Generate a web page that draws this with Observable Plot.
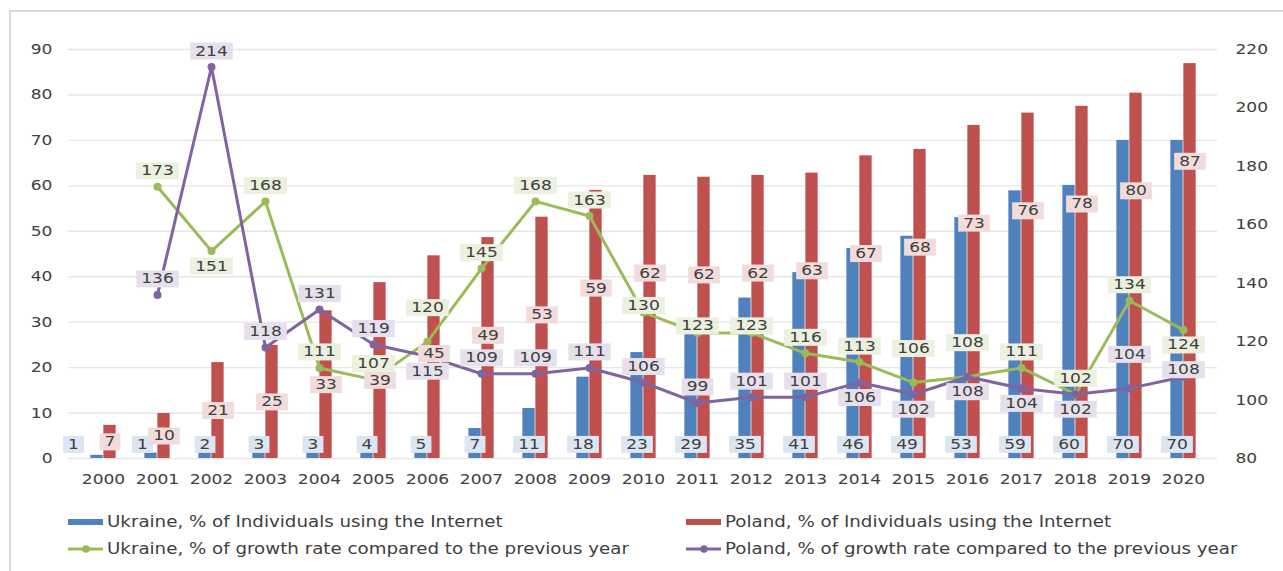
<!DOCTYPE html>
<html>
<head>
<meta charset="utf-8">
<script src="https://cdn.jsdelivr.net/npm/d3@7"></script>
<script src="https://cdn.jsdelivr.net/npm/@observablehq/plot@0.6"></script>
<style>
  html, body { margin: 0; padding: 0; background: #fff; }
  #wrap { position: relative; width: 1283px; height: 571px; overflow: hidden; font-family: "DejaVu Sans", Verdana, sans-serif; color: #404040; }
  #chart { position: absolute; left: 0; top: 0; }
  #frame { position: absolute; left: 9px; top: 10px; width: 1400px; height: 700px; border-left: 2px solid #d9d9d9; border-top: 2px solid #d9d9d9; pointer-events: none; }
  .lg-sw { position: absolute; }
  .lg-tx { position: absolute; font-size: 15px; line-height: 18px; white-space: nowrap; transform: scaleX(1.215); transform-origin: left center; }
</style>
</head>
<body>
<div id="wrap">
  <div id="chart"></div>
  <div id="legend"></div>
  <div id="frame"></div>
</div>
<script>
// ---------- data ----------
const years = ["2000","2001","2002","2003","2004","2005","2006","2007","2008","2009","2010",
               "2011","2012","2013","2014","2015","2016","2017","2018","2019","2020"];
const ukraineUsers = [0.7, 1.2, 1.9, 3.1, 3.4, 3.7, 4.5, 6.6, 11, 17.9, 23.3,
                      28.7, 35.3, 40.9, 46.2, 48.9, 53, 58.9, 60.1, 70, 70];
const polandUsers  = [7.3, 9.9, 21.1, 24.9, 32.5, 38.7, 44.6, 48.6, 53.1, 59, 62.3,
                      61.9, 62.3, 62.8, 66.6, 68, 73.3, 76, 77.5, 80.4, 86.9];
const ukraineGrowth = [null, 173, 151, 168, 111, 107, 120, 145, 168, 163, 130,
                       123, 123, 116, 113, 106, 108, 111, 102, 134, 124];
const polandGrowth  = [null, 136, 214, 118, 131, 119, 115, 109, 109, 111, 106,
                       99, 101, 101, 106, 102, 108, 104, 102, 104, 108];
// data-label placement relative to the point
const ukraineGrowthLabelSide = ["", "above","below","above","above","above","high","above","above","above","near",
                                "near","near","above","above","high","high","above","above","above","below"];
const polandGrowthLabelSide  = ["", "above","above","above","above","above","below","above","above","above","above",
                                "above","above","above","below","below","below","below","below","high","near"];
const leftTicks = [0, 10, 20, 30, 40, 50, 60, 70, 80, 90];
const rightTicks = [80, 100, 120, 140, 160, 180, 200, 220];
const seriesNames = [
  "Ukraine, % of Individuals using the Internet",
  "Poland, % of Individuals using the Internet",
  "Ukraine, % of growth rate compared to the previous year",
  "Poland, % of growth rate compared to the previous year"
];
const colors = { ua: "#4f81bd", pl: "#c0504d", uaG: "#9bbb59", plG: "#8064a2" };
const boxColors = { ua: "#dce6f2", pl: "#f2dcdb", uaG: "#ebf1de", plG: "#e6e0ec" };
const sideOffset = { above: -16, below: 15, high: -34, near: -7 };

// ---------- helpers ----------
const RMIN = 80, RMAX = 220, LMAX = 90;
const toLeft = v => (v - RMIN) * LMAX / (RMAX - RMIN);
const fromLeft = y => y * (RMAX - RMIN) / LMAX + RMIN;

const rows = years.map((year, i) => ({year, ua: ukraineUsers[i], pl: polandUsers[i]}));
const uaG = years.map((year, i) => ({year, v: ukraineGrowth[i], side: ukraineGrowthLabelSide[i]})).filter(d => d.v != null);
const plG = years.map((year, i) => ({year, v: polandGrowth[i], side: polandGrowthLabelSide[i]})).filter(d => d.v != null);

const W = 1283, H = 500, mL = 68, mR = 66, mT = 49, mB = 42;
const bw = (W - mL - mR) / years.length;
const barW = 13;
const txt = "#404040";
// Poland label sits inside the bar, below its top (or mid-bar for short bars)
const plLabelY = d => (d.pl - 21.5 > 12 ? d.pl - 21.5 : d.pl / 2);

function growthLabels(data, desc) {
  return Object.keys(sideOffset).map(side =>
    Plot.text(data.filter(d => d.side === side), {
      x: "year", y: d => toLeft(d.v), text: d => String(d.v),
      dy: sideOffset[side], fill: txt, ariaDescription: desc
    }));
}

const plot = Plot.plot({
  width: W, height: H,
  marginLeft: mL, marginRight: mR, marginTop: mT, marginBottom: mB,
  x: {domain: years, padding: 0, label: null},
  y: {domain: [0, LMAX], label: null},
  style: {fontFamily: '"DejaVu Sans", Verdana, sans-serif', fontSize: "14px", color: txt, background: "transparent", overflow: "visible"},
  marks: [
    Plot.gridY(leftTicks, {stroke: "#e6e6e6", strokeOpacity: 1, strokeWidth: 1.4}),
    Plot.axisY(leftTicks, {anchor: "left", tickSize: 0, tickPadding: 16, label: null}),
    Plot.axisY(rightTicks.map(toLeft), {anchor: "right", tickSize: 0, tickPadding: 18, label: null,
      tickFormat: d => String(Math.round(fromLeft(d)))}),
    Plot.axisX({tickSize: 0, tickPadding: 16, label: null}),
    Plot.barY(rows, {x: "year", y: "ua", fill: colors.ua, insetLeft: bw / 2 - barW, insetRight: bw / 2}),
    Plot.barY(rows, {x: "year", y: "pl", fill: colors.pl, insetLeft: bw / 2, insetRight: bw / 2 - barW}),
    Plot.line(uaG, {x: "year", y: d => toLeft(d.v), stroke: colors.uaG, strokeWidth: 3}),
    Plot.dot(uaG, {x: "year", y: d => toLeft(d.v), fill: colors.uaG, r: 4}),
    Plot.line(plG, {x: "year", y: d => toLeft(d.v), stroke: colors.plG, strokeWidth: 3}),
    Plot.dot(plG, {x: "year", y: d => toLeft(d.v), fill: colors.plG, r: 4}),
    // bar labels
    Plot.text(rows.filter(d => d.year >= "2002"), {x: "year", y: () => 3.1, text: d => String(Math.round(d.ua)), dx: -6.5, fill: txt, ariaDescription: "lbl-ua"}),
    Plot.text(rows.filter(d => d.year === "2000"), {x: "year", y: () => 3.1, text: d => String(Math.round(d.ua)), dx: -30, fill: txt, ariaDescription: "lbl-ua"}),
    Plot.text(rows.filter(d => d.year === "2001"), {x: "year", y: () => 3.1, text: d => String(Math.round(d.ua)), dx: -15, fill: txt, ariaDescription: "lbl-ua"}),
    Plot.text(rows, {x: "year", y: plLabelY, text: d => String(Math.round(d.pl)), dx: 6.5, fill: txt, ariaDescription: "lbl-pl"}),
    // growth labels
    ...growthLabels(uaG, "lbl-uaG"),
    ...growthLabels(plG, "lbl-plG")
  ]
});
document.getElementById("chart").appendChild(plot);

// ---------- horizontal text stretch + label boxes ----------
const S = 1.22;
const svg = plot.tagName.toLowerCase() === "svg" ? plot : plot.querySelector("svg");
svg.querySelectorAll("text").forEach(t => {
  const ax = parseFloat(t.getAttribute("x")) || 0;
  const tr = t.getAttribute("transform") || "";
  t.setAttribute("transform", `${tr} translate(${ax},0) scale(${S},1) translate(${-ax},0)`);
});
const boxMap = {"lbl-ua": boxColors.ua, "lbl-pl": boxColors.pl, "lbl-uaG": boxColors.uaG, "lbl-plG": boxColors.plG};
for (const [name, color] of Object.entries(boxMap)) {
  svg.querySelectorAll(`g[aria-description="${name}"]`).forEach(g => {
    g.querySelectorAll("text").forEach(t => {
      const b = t.getBBox();
      const r = document.createElementNS("http://www.w3.org/2000/svg", "rect");
      const padX = 5 / S;
      const cy = b.y + b.height / 2;
      r.setAttribute("x", b.x - padX);
      r.setAttribute("width", b.width + 2 * padX);
      r.setAttribute("y", cy - 8.5);
      r.setAttribute("height", 17);
      r.setAttribute("fill", color);
      r.setAttribute("stroke", "none");
      const tr = t.getAttribute("transform");
      if (tr) r.setAttribute("transform", tr);
      g.insertBefore(r, t);
    });
  });
}

// ---------- legend ----------
const legend = document.getElementById("legend");
const legendItems = [
  {name: seriesNames[0], color: colors.ua, kind: "bar", x: 68, y: 522},
  {name: seriesNames[1], color: colors.pl, kind: "bar", x: 686, y: 522},
  {name: seriesNames[2], color: colors.uaG, kind: "line", x: 68, y: 549},
  {name: seriesNames[3], color: colors.plG, kind: "line", x: 686, y: 549}
];
legendItems.forEach(it => {
  const sw = document.createElementNS("http://www.w3.org/2000/svg", "svg");
  sw.setAttribute("width", 36); sw.setAttribute("height", 12);
  sw.setAttribute("class", "lg-sw");
  sw.style.left = it.x + "px"; sw.style.top = (it.y - 6) + "px";
  if (it.kind === "bar") {
    sw.innerHTML = `<rect x="0" y="3" width="35" height="6" fill="${it.color}"/>`;
  } else {
    sw.innerHTML = `<line x1="0" x2="35" y1="6" y2="6" stroke="${it.color}" stroke-width="3"/><circle cx="18" cy="6" r="3.8" fill="${it.color}"/>`;
  }
  legend.appendChild(sw);
  const tx = document.createElement("span");
  tx.className = "lg-tx";
  tx.textContent = it.name;
  tx.style.left = (it.x + 39) + "px";
  tx.style.top = (it.y - 9) + "px";
  legend.appendChild(tx);
});
</script>
</body>
</html>
